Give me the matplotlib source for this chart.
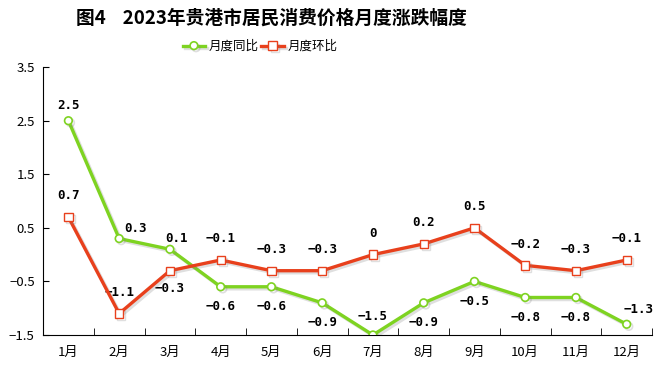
import numpy as np
import matplotlib.pyplot as plt
import matplotlib.patheffects as pe

plt.rcParams['font.family'] = ['Noto Sans CJK SC', 'DejaVu Sans']
plt.rcParams['axes.unicode_minus'] = False

months = ['1月', '2月', '3月', '4月', '5月', '6月', '7月', '8月', '9月', '10月', '11月', '12月']
yoy = [2.5, 0.3, 0.1, -0.6, -0.6, -0.9, -1.5, -0.9, -0.5, -0.8, -0.8, -1.3]   # 月度同比
mom = [0.7, -1.1, -0.3, -0.1, -0.3, -0.3, 0, 0.2, 0.5, -0.2, -0.3, -0.1]      # 月度环比

# label offsets in pixels (dx, dy)
yoy_off = [(0, 15), (16, 10), (7, 11), (0, -20), (0, -20), (0, -20),
           (0, 18), (0, -20), (0, -20), (0, -20), (0, -20), (12, 15)]
mom_off = [(0, 22), (0, 21), (0, -18), (0, 21), (0, 21), (0, 21),
           (0, 21), (0, 21), (0, 21), (0, 21), (0, 21), (0, 21)]

green = '#7ed321'
red = '#e8401c'

fig = plt.figure(figsize=(6.62, 3.72), dpi=100)
ax = fig.add_axes([0.065, 0.0995, 0.92, 0.72])
x = np.arange(len(months))

shadow = [pe.SimpleLineShadow(offset=(1.5, -1.5), alpha=0.25, shadow_color='gray'), pe.Normal()]
ax.plot(x, yoy, color=green, lw=2.4, marker='o', ms=5.5, mfc='white', mec=green, mew=1.2,
        label='月度同比', path_effects=shadow, zorder=3)
ax.plot(x, mom, color=red, lw=2.4, marker='s', ms=6, mfc='white', mec=red, mew=1.0,
        label='月度环比', path_effects=shadow, zorder=4)

def fmt(v):
    return '0' if v == 0 else ('−%.1f' % -v if v < 0 else '%.1f' % v)

for xi, v, (dx, dy) in zip(x, yoy, yoy_off):
    ax.annotate(fmt(v), (xi, v), xytext=(dx * 0.72, dy * 0.72), textcoords='offset points',
                ha='center', va='center', fontsize=9, fontweight='bold', family='DejaVu Sans Mono')
for xi, v, (dx, dy) in zip(x, mom, mom_off):
    ax.annotate(fmt(v), (xi, v), xytext=(dx * 0.72, dy * 0.72), textcoords='offset points',
                ha='center', va='center', fontsize=9, fontweight='bold', family='DejaVu Sans Mono')

ax.set_xlim(-0.5, 11.5)
ax.set_ylim(-1.5, 3.5)
ax.set_yticks([-1.5, -0.5, 0.5, 1.5, 2.5, 3.5])
ax.set_yticklabels(['−1.5', '−0.5', '0.5', '1.5', '2.5', '3.5'], fontsize=9.5)
ax.set_xticks(x)
ax.set_xticklabels(months, fontsize=9.5)
ax.set_xticks(np.arange(-0.5, 12, 1), minor=True)
ax.tick_params(axis='x', which='major', length=0, pad=8)
ax.tick_params(axis='x', which='minor', direction='in', length=5)
ax.tick_params(axis='y', direction='in', length=4, pad=6)
for s in ['top', 'right']:
    ax.spines[s].set_visible(False)

fig.text(0.41, 0.95, '图4    2023年贵港市居民消费价格月度涨跌幅度', ha='center', va='center',
         fontsize=13.5, fontweight='bold')
fig.legend(loc='center', bbox_to_anchor=(0.393, 0.875), ncol=2, frameon=False, fontsize=9,
           handlelength=1.8, handletextpad=0.3, columnspacing=0.2)

fig.savefig('out.png', dpi=100)
